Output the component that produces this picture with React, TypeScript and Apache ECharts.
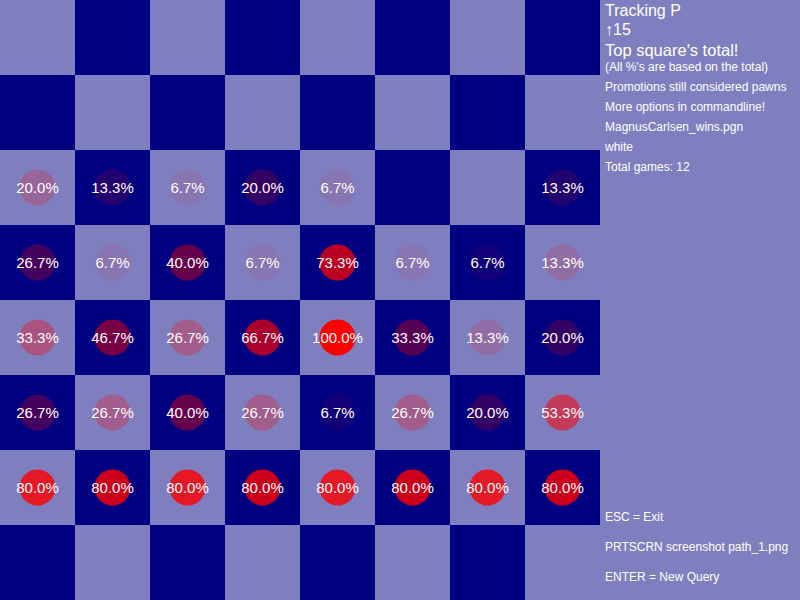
import React, { useEffect, useRef } from "react";
import * as echarts from "echarts";

const files = ["a", "b", "c", "d", "e", "f", "g", "h"];
const ranks = ["1", "2", "3", "4", "5", "6", "7", "8"];

// percentages per rank, files a..h (0 = no mark)
const rank8 = [0, 0, 0, 0, 0, 0, 0, 0];
const rank7 = [0, 0, 0, 0, 0, 0, 0, 0];
const rank6 = [20.0, 13.3, 6.7, 20.0, 6.7, 0, 0, 13.3];
const rank5 = [26.7, 6.7, 40.0, 6.7, 73.3, 6.7, 6.7, 13.3];
const rank4 = [33.3, 46.7, 26.7, 66.7, 100.0, 33.3, 13.3, 20.0];
const rank3 = [26.7, 26.7, 40.0, 26.7, 6.7, 26.7, 20.0, 53.3];
const rank2 = [80.0, 80.0, 80.0, 80.0, 80.0, 80.0, 80.0, 80.0];
const rank1 = [0, 0, 0, 0, 0, 0, 0, 0];

const rankRows = [rank1, rank2, rank3, rank4, rank5, rank6, rank7, rank8];

const infoLines = [
  { text: "Tracking P", size: 16, y: 10 },
  { text: "↑15", size: 16, y: 29.5 },
  { text: "Top square's total!", size: 16.5, y: 50 },
  { text: "(All %'s are based on the total)", size: 12, y: 66.5 },
  { text: "Promotions still considered pawns", size: 12, y: 87 },
  { text: "More options in commandline!", size: 12, y: 107 },
  { text: "MagnusCarlsen_wins.pgn", size: 12, y: 127 },
  { text: "white", size: 12, y: 147 },
  { text: "Total games: 12", size: 12, y: 167 },
  { text: "ESC = Exit", size: 12, y: 517 },
  { text: "PRTSCRN screenshot path_1.png", size: 12, y: 547 },
  { text: "ENTER = New Query", size: 12, y: 577 },
];

const LIGHT = "#7f7fbf";
const DARK = "#000080";
const FONT = "'Liberation Sans', Arial, sans-serif";

export default function App() {
  const ref = useRef<HTMLDivElement>(null);
  useEffect(() => {
    const chart = echarts.init(ref.current!, null, { renderer: "svg" });
    const squares: any[] = [];
    const marks: any[] = [];
    rankRows.forEach((row, r) => {
      row.forEach((pct, f) => {
        const light = (r + f) % 2 === 1;
        squares.push([f, r, light ? 1 : 0]);
        if (pct > 0) {
          marks.push({
            value: [f, r, pct],
            itemStyle: { color: `rgba(255,0,0,${pct / 100})`, opacity: 1 },
          });
        }
      });
    });
    chart.setOption({
      animation: false,
      backgroundColor: LIGHT,
      grid: { left: 0, top: 0, width: 600, height: 600 },
      xAxis: { type: "category", data: files, show: false },
      yAxis: { type: "category", data: ranks, show: false },
      series: [
        {
          type: "custom",
          data: squares,
          silent: true,
          renderItem: (params: any, api: any) => {
            const p = api.coord([api.value(0), api.value(1)]);
            const s = api.size([1, 1]);
            return {
              type: "rect",
              shape: { x: p[0] - s[0] / 2, y: p[1] - s[1] / 2, width: s[0], height: s[1] },
              style: { fill: api.value(2) === 1 ? LIGHT : DARK },
            };
          },
        },
        {
          type: "scatter",
          symbol: "circle",
          symbolSize: 36,
          itemStyle: { opacity: 1 },
          data: marks,
          label: {
            show: true,
            position: "inside",
            formatter: (p: any) => p.value[2].toFixed(1) + "%",
            color: "#fff",
            opacity: 1,
            fontSize: 15,
            fontFamily: FONT,
            textShadowColor: "rgba(0,0,0,0.8)",
            textShadowOffsetX: 1,
            textShadowOffsetY: 1,
            textShadowBlur: 0,
          },
        },
      ],
      graphic: infoLines.map((l) => ({
        type: "text",
        x: 605,
        y: l.y,
        style: {
          text: l.text,
          fill: "#fff",
          fontSize: l.size,
          fontFamily: FONT,
          verticalAlign: "middle",
          align: "left",
          textShadowColor: "rgba(0,0,0,0.8)",
          textShadowOffsetX: 1,
          textShadowOffsetY: 1,
          textShadowBlur: 0,
        },
      })),
    });
    return () => chart.dispose();
  }, []);
  return (
    <div
      ref={ref}
      style={{ position: "fixed", left: 0, top: 0, width: 800, height: 600 }}
    />
  );
}
